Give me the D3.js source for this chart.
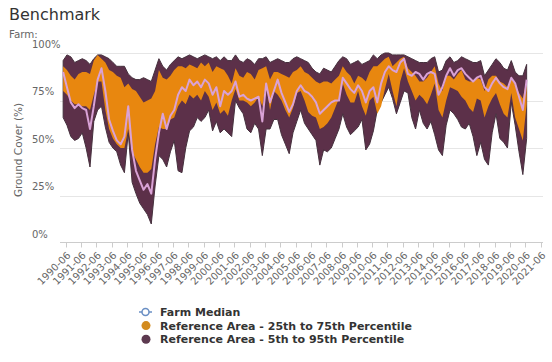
<!DOCTYPE html>
<html>
<head>
<meta charset="utf-8">
<script src="https://cdn.jsdelivr.net/npm/d3@7/dist/d3.min.js"></script>
<style>
  html, body { margin: 0; padding: 0; background: #ffffff; }
  svg { display: block; font-family: "DejaVu Sans", Verdana, sans-serif; }
</style>
</head>
<body>
<svg id="chart" width="552" height="362"></svg>
<script>
// ---------------- DATA ----------------
const dates = [
  "1990-04","1990-07","1990-10",
  "1991-01","1991-04","1991-07","1991-10",
  "1992-01","1992-04","1992-07","1992-10",
  "1993-01","1993-04","1993-07","1993-10",
  "1994-01","1994-04","1994-07","1994-10",
  "1995-01","1995-04","1995-07","1995-10",
  "1996-01","1996-04","1996-07","1996-10",
  "1997-01","1997-04","1997-07","1997-10",
  "1998-01","1998-04","1998-07","1998-10",
  "1999-01","1999-04","1999-07","1999-10",
  "2000-01","2000-04","2000-07","2000-10",
  "2001-01","2001-04","2001-07","2001-10",
  "2002-01","2002-04","2002-07","2002-10",
  "2003-01","2003-04","2003-07","2003-10",
  "2004-01","2004-04","2004-07","2004-10",
  "2005-01","2005-04","2005-07","2005-10",
  "2006-01","2006-04","2006-07","2006-10",
  "2007-01","2007-04","2007-07","2007-10",
  "2008-01","2008-04","2008-07","2008-10",
  "2009-01","2009-04","2009-07","2009-10",
  "2010-01","2010-04","2010-07","2010-10",
  "2011-01","2011-04","2011-07","2011-10",
  "2012-01","2012-04","2012-07","2012-10",
  "2013-01","2013-04","2013-07","2013-10",
  "2014-01","2014-04","2014-07","2014-10",
  "2015-01","2015-04","2015-07","2015-10",
  "2016-01","2016-04","2016-07","2016-10",
  "2017-01","2017-04","2017-07","2017-10",
  "2018-01","2018-04","2018-07","2018-10",
  "2019-01","2019-04","2019-07","2019-10",
  "2020-01","2020-04","2020-07"
];

// Reference Area - 5th percentile
const p05 = [
  66,62,56,54,55,58,50,40,64,70,72,61,53,50,48,41,
  37,58,32,26,21,18,15,10,30,46,44,40,48,54,38,
  37,50,59,61,66,64,66,70,59,64,58,
  60,58,56,75,71,68,60,58,63,60,46,60,60,65,65,57,52,47,58,64,70,63,60,57,54,41,49,48,50,55,60,68,61,57,59,61,65,49,52,59,70,74,78,82,
  76,68,74,80,79,66,60,70,63,60,64,57,49,46,62,70,68,65,61,60,63,56,46,53,44,41,58,68,55,53,50,74,62,48,36,55
];
// Reference Area - 25th percentile
const p25 = [
  80,78,75,73,73,72,72,70,78,85,85,70,60,55,52,50,
  50,60,48,44,40,37,37,39,52,61,60,60,65,66,72,
  75,73,78,76,78,75,80,77,70,74,68,
  70,67,75,81,75,75,74,72,74,77,72,84,70,80,78,75,70,66,71,79,80,75,69,67,66,60,61,63,66,71,76,84,78,74,74,80,72,67,75,77,68,72,81,89,
  80,72,85,92,85,80,75,78,76,73,78,84,70,66,75,82,81,80,77,75,71,69,76,75,66,72,76,79,73,68,66,79,66,60,54,73
];
// Reference Area - 75th percentile
const p75 = [
  93,91,88,86,89,90,90,89,96,99,97,95,91,90,88,87,
  82,84,81,80,77,74,75,76,80,91,87,86,88,91,93,
  93,92,94,93,92,95,93,95,90,93,92,
  91,88,84,92,88,87,90,89,86,91,92,93,86,90,90,89,88,87,90,91,93,90,89,87,85,84,85,85,84,86,88,93,90,88,84,88,87,85,90,93,93,95,97,98,
  93,95,97,98,92,90,88,85,85,87,90,93,84,80,88,88,86,89,91,86,85,85,87,86,80,86,88,88,85,84,82,87,83,79,76,86
];
// Reference Area - 95th percentile
const p95 = [
  96,99,98,95,96,97,96,94,97,99,99,98,97,95,93,93,
  93,89,87,86,86,87,86,85,91,97,93,91,94,96,98,
  97,98,99,98,97,98,99,98,97,98,96,
  98,96,96,99,96,95,97,96,94,97,97,98,95,96,97,96,95,95,97,98,97,96,95,92,90,89,92,91,90,93,96,98,97,94,95,96,94,95,96,99,97,99,100,100,
  99,99,99,99,98,97,96,95,95,95,97,98,90,91,96,98,95,96,98,97,96,95,95,96,88,91,94,97,95,92,91,96,90,88,88,94
];
// Farm Median
const farmMedian = [
  90,82,74,71,73,71,70,60,72,86,92,80,65,59,54,52,
  56,72,49,38,33,28,31,26,44,58,68,60,67,70,78,
  82,80,86,83,85,82,86,84,78,82,72,
  80,78,80,85,77,78,76,75,76,77,64,84,74,80,86,79,74,69,73,80,83,80,79,77,74,68,70,72,74,75,75,87,84,81,79,83,80,74,80,82,74,84,90,93,
  91,90,95,97,89,88,90,89,86,89,90,89,78,82,88,92,88,91,92,89,87,85,87,88,82,80,84,87,84,82,81,87,84,77,70,86
];

const xTickLabels = [
  "1990-06","1991-06","1992-06","1993-06","1994-06","1995-06","1996-06","1997-06",
  "1998-06","1999-06","2000-06","2001-06","2002-06","2003-06","2004-06","2005-06",
  "2006-06","2007-06","2008-06","2009-06","2010-06","2011-06","2012-06","2013-06",
  "2014-06","2015-06","2016-06","2017-06","2018-06","2019-06","2020-06","2021-06"
];
const yTicks = [0, 25, 50, 75, 100];

const legendItems = [
  { name: "Farm Median", type: "line" },
  { name: "Reference Area - 25th to 75th Percentile", type: "dot", color: "#d38b1e" },
  { name: "Reference Area - 5th to 95th Percentile", type: "dot", color: "#5d3a50" }
];

// ---------------- CHART ----------------
const parse = d3.timeParse("%Y-%m");
const rows = dates.map((d, i) => ({
  date: parse(d), p05: p05[i], p25: p25[i], p75: p75[i], p95: p95[i], med: farmMedian[i]
}));

const svg = d3.select("#chart");
const plotLeft = 60, plotRight = 543, plotTop = 53, plotBottom = 243;

const x = d3.scaleTime()
  .domain([parse(xTickLabels[0]), parse(xTickLabels[xTickLabels.length - 1])])
  .range([65.7, 540.7]);
const y = d3.scaleLinear().domain([0, 100]).range([plotBottom, plotTop]);

// title & subtitle
svg.append("text").attr("x", 9).attr("y", 20)
  .attr("font-size", 16).attr("fill", "#333333").text("Benchmark");
svg.append("text").attr("x", 9).attr("y", 38)
  .attr("font-size", 10.3).attr("fill", "#666666").text("Farm:");

// gridlines
svg.append("g").selectAll("line").data(yTicks.filter(v => v > 0)).join("line")
  .attr("x1", plotLeft).attr("x2", plotRight)
  .attr("y1", d => Math.round(y(d)) + 0.5).attr("y2", d => Math.round(y(d)) + 0.5)
  .attr("stroke", "#e6e6e6").attr("stroke-width", 1);

// y labels (left aligned, above gridline)
svg.append("g").selectAll("text").data(yTicks).join("text")
  .attr("x", 32).attr("y", d => y(d) - 9)
  .attr("dy", "0.35em")
  .attr("font-size", 10).attr("fill", "#666666")
  .text(d => d + "%");

// y axis title
svg.append("text")
  .attr("transform", "translate(22,150) rotate(-90)")
  .attr("text-anchor", "middle")
  .attr("font-size", 10.5).attr("fill", "#666666")
  .text("Ground Cover (%)");

// bands
const outer = d3.area().x(d => x(d.date)).y0(d => y(d.p05)).y1(d => y(d.p95));
const inner = d3.area().x(d => x(d.date)).y0(d => y(d.p25)).y1(d => y(d.p75));
const medLine = d3.line().x(d => x(d.date)).y(d => y(d.med));

svg.append("path").datum(rows).attr("d", outer)
  .attr("fill", "#5c3049").attr("stroke", "#45303d").attr("stroke-width", 1);
svg.append("path").datum(rows).attr("d", inner)
  .attr("fill", "#e8870f");
svg.append("path").datum(rows).attr("d", medLine)
  .attr("fill", "none").attr("stroke", "#d9a2d6").attr("stroke-width", 2)
  .attr("stroke-linejoin", "round");

// x axis
const xAxisG = svg.append("g").attr("transform", `translate(0,${plotBottom - 0.5})`);
xAxisG.append("line").attr("x1", plotLeft).attr("x2", plotRight)
  .attr("y1", 0).attr("y2", 0).attr("stroke", "#cccccc");
const tickDates = xTickLabels.map(parse);
xAxisG.selectAll("line.tick").data(tickDates).join("line")
  .attr("class", "tick")
  .attr("x1", d => Math.round(x(d)) + 0.5).attr("x2", d => Math.round(x(d)) + 0.5)
  .attr("y1", 0).attr("y2", 5).attr("stroke", "#cccccc");
xAxisG.selectAll("text").data(xTickLabels).join("text")
  .attr("transform", d => `translate(${x(parse(d)) + 3},${11}) rotate(-45)`)
  .attr("text-anchor", "end")
  .attr("dy", "0.35em")
  .attr("font-size", 10).attr("fill", "#666666")
  .text(d => d);

// legend
const lg = svg.append("g");
legendItems.forEach((it, i) => {
  const cy = 312 + i * 13.6;
  if (it.type === "line") {
    lg.append("line").attr("x1", 139).attr("x2", 152).attr("y1", cy).attr("y2", cy)
      .attr("stroke", "#6a8fc4").attr("stroke-width", 1.5);
    lg.append("circle").attr("cx", 145.5).attr("cy", cy).attr("r", 3.5)
      .attr("fill", "#ffffff").attr("stroke", "#6a8fc4").attr("stroke-width", 1.5);
  } else {
    lg.append("circle").attr("cx", 146).attr("cy", cy).attr("r", 4.5).attr("fill", it.color);
  }
  lg.append("text").attr("x", 160).attr("y", cy).attr("dy", "0.36em")
    .attr("font-size", 11).attr("font-weight", "bold").attr("fill", "#333333")
    .text(it.name);
});
</script>
</body>
</html>
